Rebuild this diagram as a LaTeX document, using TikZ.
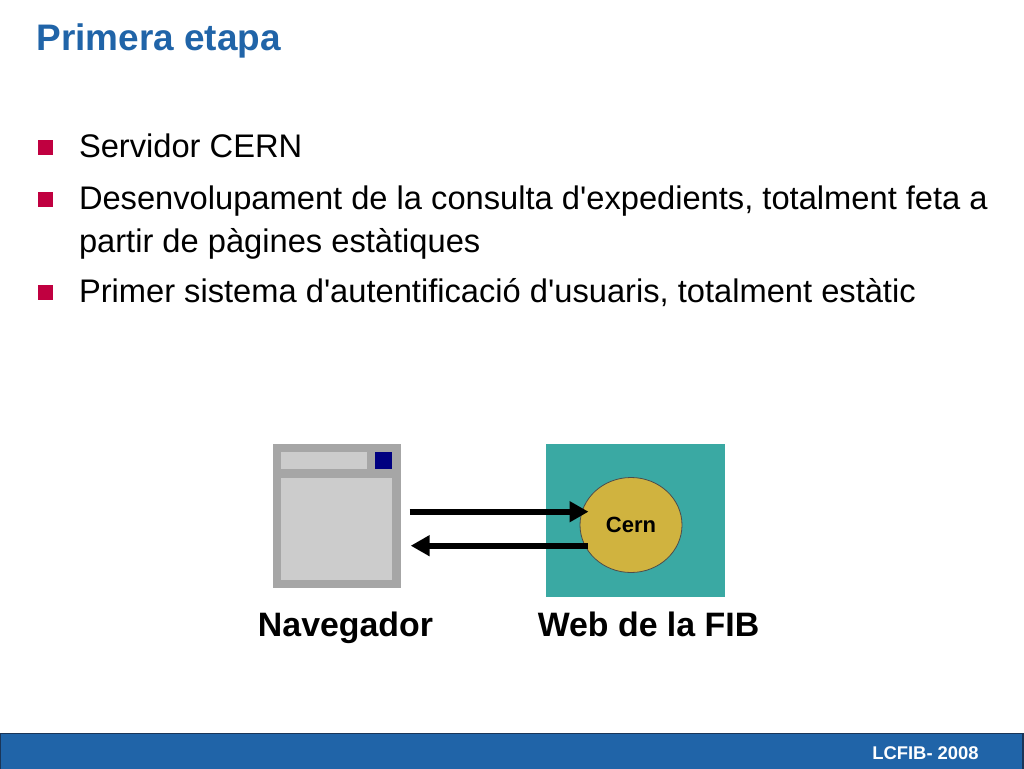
\documentclass[tikz,border=0pt]{standalone}
\usepackage{fontspec}
\setmainfont[Ligatures=TeXOff]{Liberation Sans}
\usetikzlibrary{shapes.geometric,arrows.meta}
\definecolor{fibBlue}{HTML}{2064A8}
\definecolor{fibRed}{HTML}{C00040}
\definecolor{fibTeal}{HTML}{3AA9A3}
\definecolor{fibGold}{HTML}{D0B33F}
\definecolor{fibDark}{HTML}{1A3558}
\def\myUnit{0.75pt}

\begin{document}
\begin{tikzpicture}[x=\myUnit,y=-\myUnit]
      \tikzstyle{every node} = [inner sep=0pt, outer sep=0pt]
      \tikzstyle{box} = [rectangle, anchor=north west]
      \tikzstyle{bullet} = [box, fill=fibRed, minimum width=14.7*\myUnit, minimum height=15*\myUnit]
      \tikzstyle{bodytext} = [anchor=base west, font=\fontsize{24.5}{32}\selectfont]
      \tikzstyle{caption} = [anchor=base, font=\fontsize{25.4}{28}\selectfont\bfseries]
      \tikzstyle{flow} = [line width=6*\myUnit, -{Triangle[length=19*\myUnit,width=20*\myUnit]}]
      \useasboundingbox (0,0) rectangle (1024,768);
      % Title and text
      \node[anchor=base west, text=fibBlue, font=\fontsize{27.7}{30}\selectfont\bfseries](title) at (36.5,50){Primera etapa};
      \node[bullet](bulletA) at (38,140){};
      \node[bullet](bulletB) at (38,192){};
      \node[bullet](bulletC) at (38,285){};
      \node[bodytext](itemA) at (79,157){Servidor CERN};
      \node[bodytext](itemB) at (79,209){Desenvolupament de la consulta d'expedients, totalment feta a};
      \node[bodytext](itemBnext) at (79,252){partir de pàgines estàtiques};
      \node[bodytext](itemC) at (79,302){Primer sistema d'autentificació d'usuaris, totalment estàtic};
      % Browser
      \node[box, fill=black!35, minimum width=128*\myUnit, minimum height=144*\myUnit](browser) at (273,444){};
      \node[box, fill=black!20, minimum width=85.5*\myUnit, minimum height=17.3*\myUnit](titleBar) at (281.3,452){};
      \node[box, fill=blue!50!black, minimum width=17.3*\myUnit, minimum height=17.3*\myUnit](closeBox) at (375,452){};
      \node[box, fill=black!20, minimum width=111*\myUnit, minimum height=102.5*\myUnit](page) at (281.3,477.5){};
      % Server
      \node[box, fill=fibTeal, minimum width=179*\myUnit, minimum height=153.3*\myUnit](web) at (546,443.7){};
      \node[ellipse, draw=black!70, line width=0.8*\myUnit, fill=fibGold, minimum width=102*\myUnit, minimum height=95*\myUnit, font=\fontsize{16.5}{18}\selectfont\bfseries](cern) at (631,525){\raisebox{-0.7pt}{Cern}};
      % Connections
      \coordinate (outStart) at (409.5,511.7);
      \coordinate (outEnd) at (588.5,511.7);
      \coordinate (backStart) at (588,545.7);
      \coordinate (backEnd) at (410.7,545.7);
      \draw[flow] (outStart) -- (outEnd);
      \draw[flow] (backStart) -- (backEnd);
      % Labels
      \node[caption](browserLabel) at (345.5,636){Navegador};
      \node[caption](webLabel) at (648.5,636){Web de la FIB};
      % Footer
      \node[box, fill=fibBlue, draw=fibDark, line width=1.5*\myUnit, minimum width=1022.5*\myUnit, minimum height=36*\myUnit](footer) at (0.7,733.5){};
      \node[anchor=base, text=white, font=\fontsize{13.8}{15}\selectfont\bfseries](footerText) at (925.5,759){LCFIB- 2008};
    \end{tikzpicture}
\end{document}
